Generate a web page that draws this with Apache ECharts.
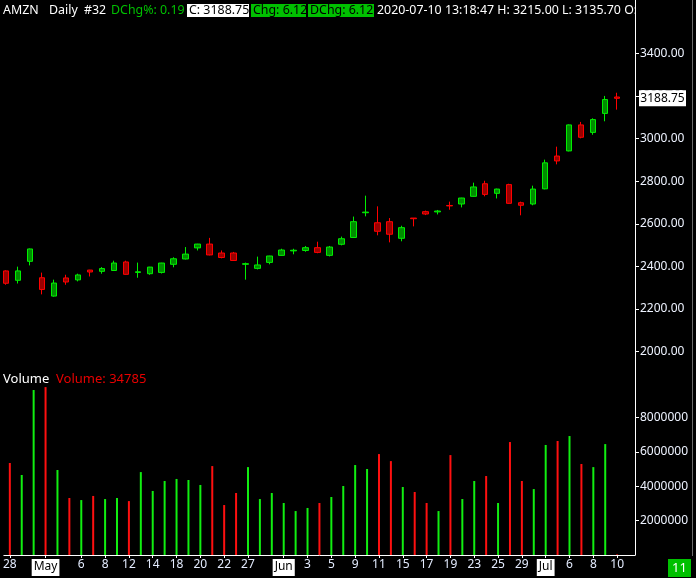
<!DOCTYPE html>
<html><head><meta charset="utf-8">
<script src="https://cdn.jsdelivr.net/npm/echarts@6/dist/echarts.min.js"></script>
<style>html,body{margin:0;padding:0;background:#000;}#c{width:696px;height:578px;}</style>
</head><body><div id="c"></div>
<script>
const dates = ['2020-04-28','2020-04-29','2020-04-30','2020-05-01','2020-05-04','2020-05-05','2020-05-06','2020-05-07','2020-05-08','2020-05-11','2020-05-12','2020-05-13','2020-05-14','2020-05-15','2020-05-18','2020-05-19','2020-05-20','2020-05-21','2020-05-22','2020-05-26','2020-05-27','2020-05-28','2020-05-29','2020-06-01','2020-06-02','2020-06-03','2020-06-04','2020-06-05','2020-06-08','2020-06-09','2020-06-10','2020-06-11','2020-06-12','2020-06-15','2020-06-16','2020-06-17','2020-06-18','2020-06-19','2020-06-22','2020-06-23','2020-06-24','2020-06-25','2020-06-26','2020-06-29','2020-06-30','2020-07-01','2020-07-02','2020-07-06','2020-07-07','2020-07-08','2020-07-09','2020-07-10'];
const tickLabels = ['28','','','May','','','6','','8','','12','','14','','18','','20','','22','','27','','','Jun','','3','','5','','9','','11','','15','','17','','19','','23','','25','','29','','Jul','','6','','8','','10',''];
const monthLabels = ['May','Jun','Jul'];
const opens  = [2379,2335,2424,2347,2261,2346,2337,2383,2377,2381,2421,2372,2366,2372,2410,2435,2487,2505,2463,2463,2410,2391,2419,2452,2473,2475,2488,2452,2504,2536,2652,2605,2610,2532,2627,2657,2656,2686,2693,2729,2788,2743,2784,2699,2693,2764,2918,2942,3064,3029,3118,3195];
const highs  = [2382,2399,2484,2371,2338,2361,2366,2384,2397,2427,2427,2418,2398,2417,2443,2491,2506,2534,2475,2468,2418,2446,2450,2483,2483,2496,2516,2496,2540,2634,2732,2682,2627,2591,2627,2662,2665,2704,2722,2793,2802,2765,2788,2704,2779,2901,2962,3066,3078,3095,3200,3215];
const lows   = [2314,2320,2405,2269,2258,2314,2330,2353,2366,2379,2361,2347,2361,2367,2396,2433,2475,2452,2438,2426,2338,2386,2410,2450,2457,2469,2462,2447,2499,2535,2635,2546,2513,2518,2588,2641,2644,2666,2677,2728,2729,2719,2694,2640,2687,2762,2879,2940,3001,3018,3081,3135.7];
const closes = [2321,2379,2482,2292,2322,2327,2360,2374,2390,2416,2363,2375,2397,2416,2436,2458,2505,2454,2442,2428,2413,2407,2449,2477,2476,2488,2466,2491,2530,2610,2655,2565,2551,2582,2624,2646,2660,2684,2721,2773,2738,2763,2696,2687,2763,2886,2895,3064,3006,3089,3183,3188.75];
const volumes = [5360000,4660000,9610000,9780000,4950000,3320000,3200000,3440000,3260000,3320000,3140000,4830000,3730000,4310000,4430000,4370000,4080000,5180000,2910000,3610000,5120000,3260000,3610000,3030000,2560000,2740000,3030000,3380000,4020000,5240000,5010000,5880000,5470000,3960000,3670000,3030000,2560000,5820000,3260000,4310000,4600000,3030000,6580000,4310000,3840000,6410000,6640000,6930000,5300000,5120000,6460000,34785];
const priceTicks = {min: 2000, max: 3400, step: 200};
const volTicks = {min: 0, max: 9990000, step: 2000000};

const UP_BORDER = '#00ee00', UP_FILL = '#008c00', DN_BORDER = '#ff0000', DN_FILL = '#9a0000';
const VOL_UP = '#11ee11', VOL_DN = '#ff1010';
const FONT = 'Noto Sans';
const cats = dates.concat(['']);

const chart = echarts.init(document.getElementById('c'), null, {renderer: 'canvas'});
const candleData = dates.map((d, i) => [opens[i], closes[i], lows[i], highs[i]]);
const volData = dates.map((d, i) => ({value: volumes[i], itemStyle: {color: closes[i] >= opens[i] ? VOL_UP : VOL_DN}}));
const showTick = (i) => !!tickLabels[i];

chart.setOption({
  backgroundColor: '#000',
  animation: false,
  grid: [
    {left: 0, right: 61, top: 53.3, height: 298.4},
    {left: 0, right: 61, top: 383.5, bottom: 23}
  ],
  xAxis: [
    {type: 'category', gridIndex: 0, data: cats, show: false, boundaryGap: true},
    {type: 'category', gridIndex: 1, data: cats, boundaryGap: true,
     axisLine: {show: true, lineStyle: {color: '#ffffff', width: 1}},
     axisTick: {show: true, alignWithLabel: true, length: 3, interval: (i) => showTick(i), lineStyle: {color: '#ffffff'}},
     axisLabel: {
       interval: (i) => showTick(i), margin: 4, color: '#e4ecff', fontFamily: FONT, fontSize: 12,
       formatter: (v, i) => { const t = tickLabels[i]; return monthLabels.includes(t) ? '{m|' + t + '}' : t; },
       rich: {m: {backgroundColor: '#ffffff', color: '#000000', fontFamily: FONT, fontSize: 12, padding: [2, 2, 3, 2]}}
     }}
  ],
  yAxis: [
    {type: 'value', gridIndex: 0, position: 'right', min: priceTicks.min, max: priceTicks.max, interval: priceTicks.step,
     axisLine: {show: true, lineStyle: {color: '#ffffff'}},
     axisTick: {show: true, length: 4, lineStyle: {color: '#ffffff'}},
     splitLine: {show: false},
     axisLabel: {margin: 5, color: '#eef3ff', fontFamily: FONT, fontSize: 12, formatter: (v) => v.toFixed(2)}},
    {type: 'value', gridIndex: 1, position: 'right', min: volTicks.min, max: volTicks.max, interval: volTicks.step,
     axisLine: {show: true, lineStyle: {color: '#ffffff'}},
     axisTick: {show: true, length: 4, lineStyle: {color: '#ffffff'}},
     splitLine: {show: false},
     axisLabel: {margin: 5, color: '#eef3ff', fontFamily: FONT, fontSize: 12, showMinLabel: false, showMaxLabel: false, formatter: (v) => String(v)}}
  ],
  series: [
    {type: 'candlestick', xAxisIndex: 0, yAxisIndex: 0, data: candleData, barWidth: 6,
     itemStyle: {color: UP_FILL, color0: DN_FILL, borderColor: UP_BORDER, borderColor0: DN_BORDER, borderWidth: 1}},
    {type: 'bar', xAxisIndex: 1, yAxisIndex: 1, data: volData, barWidth: 2}
  ]
});

const lastY = chart.convertToPixel({yAxisIndex: 0}, closes[closes.length - 1]);
const hdrY = 10.5;
const HF = '12.4px "' + FONT + '"';
const txt = (x, y, text, fill, font) => ({type: 'text', z: 100, style: {x: x, y: y, text: text, fill: fill, font: font || HF, verticalAlign: 'middle'}});
const rect = (x, y, w, h, fill) => ({type: 'rect', z: 99, shape: {x: x, y: y, width: w, height: h}, style: {fill: fill}});

chart.setOption({
  graphic: [
    {type: 'line', z: 50, shape: {x1: 635.5, y1: 0, x2: 635.5, y2: 555}, style: {stroke: '#ffffff', lineWidth: 1}},
    {type: 'line', z: 50, shape: {x1: 692.5, y1: 0, x2: 692.5, y2: 556}, style: {stroke: '#6a6a6a', lineWidth: 1}},
    txt(3, hdrY, 'AMZN', '#ffffff'),
    txt(49, hdrY, 'Daily', '#ffffff'),
    txt(84, hdrY, '#32', '#ffffff'),
    txt(111, hdrY, 'DChg%: 0.19', '#00c000'),
    rect(187, 4, 62, 13, '#ffffff'),
    txt(189, hdrY, 'C: 3188.75', '#000000'),
    rect(251, 4, 55, 13, '#00c000'),
    txt(253, hdrY, 'Chg: 6.12', '#000000'),
    rect(308, 4, 66, 13, '#00c000'),
    txt(310, hdrY, 'DChg: 6.12', '#000000'),
    txt(377, hdrY, '2020-07-10 13:18:47 H: 3215.00 L: 3135.70 O: 3195.00', '#ffffff'),
    {type: 'rect', z: 101, shape: {x: 636, y: 0, width: 56, height: 26}, style: {fill: '#000000'}},
    txt(3, 379, 'Volume', '#ffffff', '13px "' + FONT + '"'),
    txt(56, 379, 'Volume: 34785', '#e80000', '13px "' + FONT + '"'),
    rect(639, lastY - 8, 47, 16, '#ffffff'),
    {type: 'text', z: 102, style: {x: 662.5, y: lastY, text: closes[closes.length - 1].toFixed(2), fill: '#000', font: '12px "' + FONT + '"', align: 'center', verticalAlign: 'middle'}},
    rect(668, 559, 23, 18, '#00c000'),
    {type: 'text', z: 102, style: {x: 679.5, y: 568, text: '11', fill: '#ffffff', font: '13px "' + FONT + '"', align: 'center', verticalAlign: 'middle'}}
  ]
});
</script></body></html>
